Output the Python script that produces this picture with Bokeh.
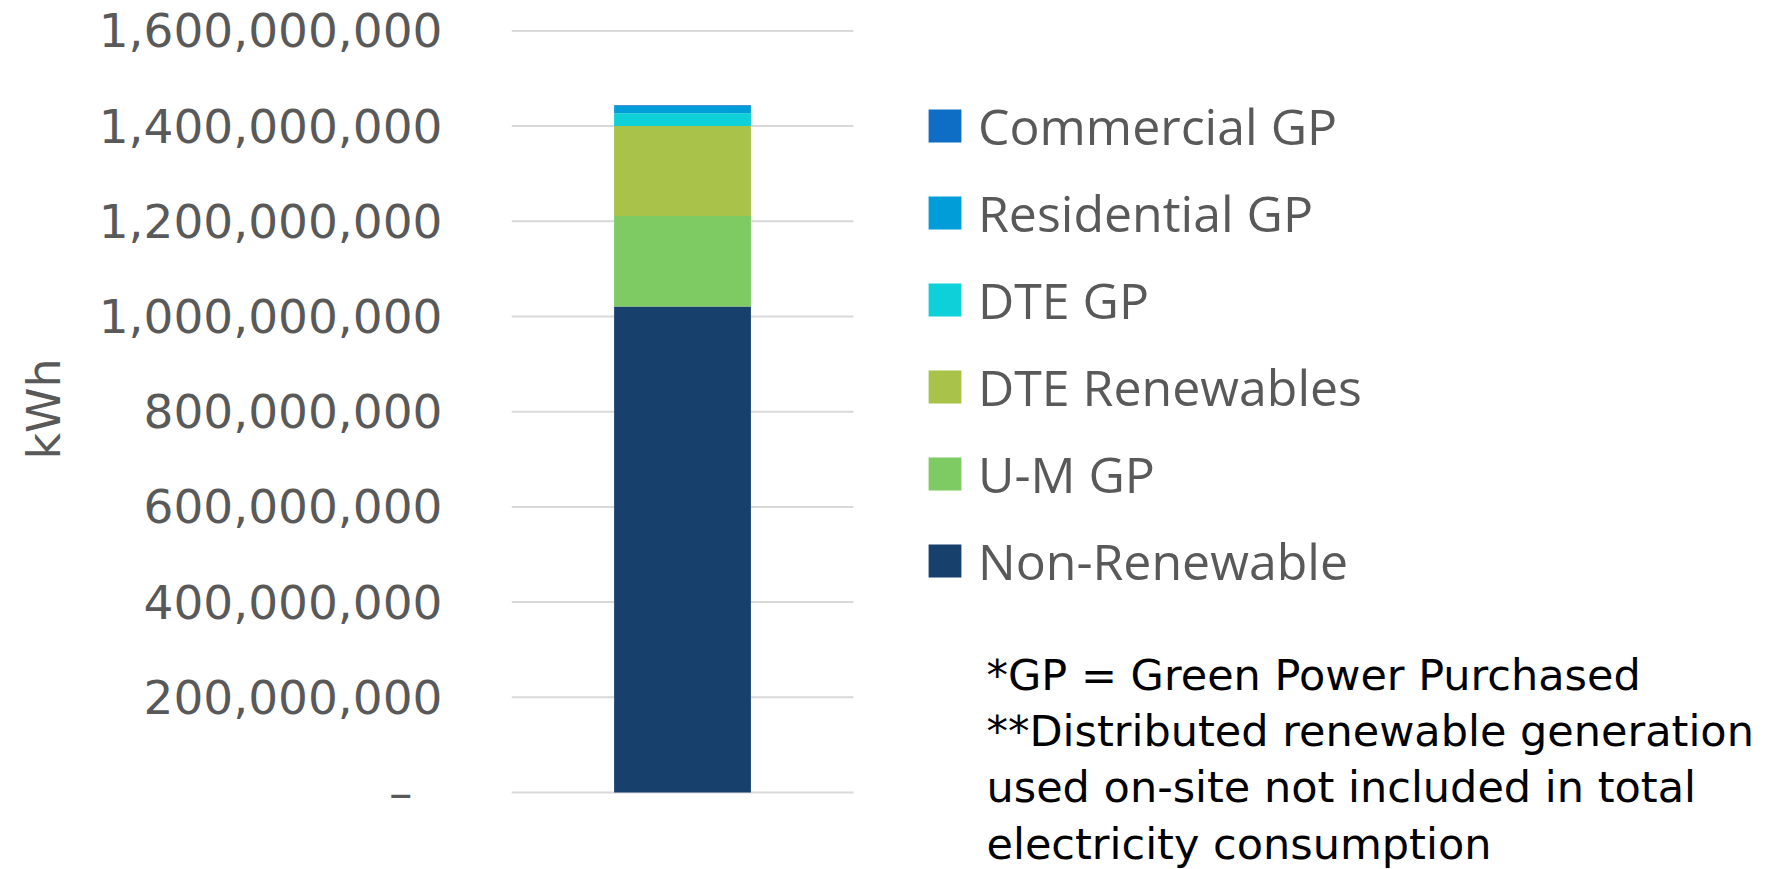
from bokeh.plotting import figure
from bokeh.models import Legend, LegendItem, Label, NumeralTickFormatter, FixedTicker, Range1d
from bokeh.embed import file_html
from bokeh.resources import INLINE

# ---- data ----
categories = ["Total"]
series_names = ["Non-Renewable", "U-M GP", "DTE Renewables", "DTE GP", "Residential GP", "Commercial GP"]
non_renewable = [1021e6]
um_gp = [190e6]
dte_renewables = [189e6]
dte_gp = [27e6]
residential_gp = [15e6]
commercial_gp = [2e6]
colors = ["#17406D", "#7ECB64", "#A8C24A", "#0DD0D8", "#009DD9", "#0E6EC5"]
y_ticks = [0, 200e6, 400e6, 600e6, 800e6, 1000e6, 1200e6, 1400e6, 1600e6]
footnotes = [
    "*GP = Green Power Purchased",
    "**Distributed renewable generation",
    "used on-site not included in total",
    "electricity consumption",
]

bar_pos = [0.5]  # category position inside the plot area (plot area spans 0..1)
data = {
    "x": bar_pos,
    "Non-Renewable": non_renewable,
    "U-M GP": um_gp,
    "DTE Renewables": dte_renewables,
    "DTE GP": dte_gp,
    "Residential GP": residential_gp,
    "Commercial GP": commercial_gp,
}

# one figure whose frame also hosts the legend and notes on the right
p = figure(
    x_range=Range1d(0, 3.716), y_range=Range1d(-161.8e6, 1.6197e9),
    width=1782, height=869,
    min_border_left=511, min_border_right=0, min_border_top=21, min_border_bottom=0,
    output_backend="svg", toolbar_location=None,
)
p.outline_line_color = None
p.background_fill_color = "white"
p.border_fill_color = "white"
p.xaxis.visible = False
p.grid.grid_line_color = None

# gridlines across the plot area only
p.segment(x0=[0] * len(y_ticks), x1=[1] * len(y_ticks), y0=y_ticks, y1=y_ticks,
          line_color="#D9D9D9", line_width=2)

renderers = p.vbar_stack(series_names, x="x", width=0.4, color=colors, source=data, line_color=None)

yax = p.yaxis[0]
yax.ticker = FixedTicker(ticks=y_ticks)
yax.formatter = NumeralTickFormatter(format="0,0")
yax.major_label_overrides = {0: "\u2013\u2007"}
yax.axis_line_color = None
yax.major_tick_line_color = None
yax.minor_tick_line_color = None
yax.major_label_text_font = "DejaVu Sans"
yax.major_label_text_font_size = "47px"
yax.major_label_text_color = "#595959"
yax.major_label_standoff = 63
yax.axis_label = "\u00a0\u00a0\u00a0\u00a0\u00a0kWh"
yax.axis_label_text_font = "DejaVu Sans"
yax.axis_label_text_font_size = "46px"
yax.axis_label_text_font_style = "normal"
yax.axis_label_text_color = "#595959"
yax.axis_label_standoff = 25

items = [LegendItem(label=name, renderers=[r]) for name, r in zip(series_names, renderers)][::-1]
legend = Legend(
    items=items, location=(413, 265), orientation="vertical",
    glyph_width=41, glyph_height=41, label_height=87, spacing=0,
    label_standoff=13, padding=0, margin=0,
    label_text_font="Open Sans", label_text_font_size="50px", label_text_color="#595959",
    border_line_color=None, background_fill_alpha=0,
)
p.add_layout(legend, "center")

ys = [195, 139, 83, 26]
for txt, yy in zip(footnotes, ys):
    p.add_layout(Label(x=475, y=yy, x_units="screen", y_units="screen", text=txt,
                       text_font="DejaVu Sans", text_font_size="43px", text_color="black",
                       text_baseline="middle"))

open("out.html", "w").write(file_html(p, INLINE))
